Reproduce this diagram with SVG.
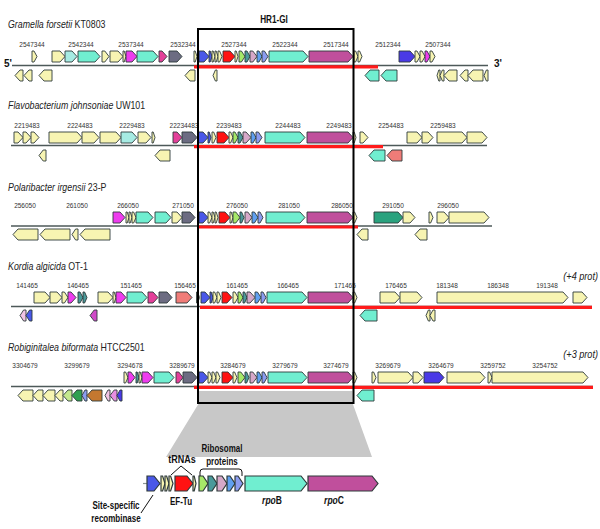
<svg xmlns="http://www.w3.org/2000/svg" width="600" height="529" viewBox="0 0 600 529">
<style>
.g path{stroke:#2e3a3a;stroke-width:0.9;stroke-linejoin:miter}
.lg2 path{stroke:#2e3a3a;stroke-width:1.2}
.y{fill:#f7f4b2}.aq{fill:#70eed0}.lc{fill:#a6ebe3}.mg{fill:#c04f9c}.mb{fill:#ee3cee}.hp{fill:#e4409a}.sl{fill:#6c6c82}.bl{fill:#4a58e8}.pb{fill:#4a3ae6}.rd{fill:#ff1212}.gr{fill:#a6e868}.tl{fill:#4a9a9a}.pk{fill:#d6a8c8}.lb{fill:#60a0f0}.pw{fill:#8c9cf0}.sa{fill:#f07c78}.dg{fill:#2aa27e}.br{fill:#c47830}.lgr{fill:#c4e88e}.gn{fill:#30a050}.lp{fill:#f2c4e4}.or{fill:#d04ac8}.pi{fill:#e88ee0}
.bb{stroke:#4d5959;stroke-width:1.5}
.red{stroke:#ff1a1a;stroke-width:3.2}
.num{font-family:"Liberation Sans",Arial,sans-serif;font-size:6.5px;fill:#333;text-anchor:middle}
.ttl{font-family:"Liberation Sans",Arial,sans-serif;font-size:10.5px;fill:#222}
.lbl{font-family:"Liberation Sans",Arial,sans-serif;font-size:10px;font-weight:bold;fill:#111;text-anchor:middle}
.end{font-family:"Liberation Sans",Arial,sans-serif;font-size:10px;font-weight:bold;fill:#111}
</style>

<polygon id="zoom-shade" points="199,391 352.5,391 352.5,403 372,457 166,457 199,403" fill="#c8c8c8"/>

<g id="backbones">
<line class="bb" x1="12" y1="65.5" x2="488" y2="65.5"/>
<line class="red" x1="194" y1="66.8" x2="378" y2="66.8"/>
<line class="bb" x1="11" y1="145.5" x2="487" y2="145.5"/>
<line class="red" x1="194" y1="146.6" x2="383" y2="146.6"/>
<line class="bb" x1="11" y1="226" x2="492" y2="226"/>
<line class="red" x1="199" y1="227" x2="358" y2="227"/>
<line class="bb" x1="11" y1="306.5" x2="592" y2="306.5"/>
<line class="red" x1="200" y1="307.3" x2="592" y2="307.3"/>
<line class="bb" x1="11" y1="386.5" x2="593" y2="386.5"/>
<line class="red" x1="194" y1="387.3" x2="593" y2="387.3"/>
</g>

<text class="end" x="4" y="67">5'</text>
<text class="end" x="494" y="67">3'</text>

<g id="row-gramella" transform="translate(0,51)">
<g class="g">
<path class="y" d="M32 0h2l3 5.5-3 5.5h-2z"/>
<path class="y" d="M52 0h8l5 5.5-5 5.5h-8z"/>
<path class="lc" d="M65 0h7l5 5.5-5 5.5h-7z"/>
<path class="aq" d="M78 0h17l5 5.5-5 5.5h-17z"/>
<path class="y" d="M102 0h2.8l4.2 5.5-4.2 5.5h-2.8z"/>
<path class="y" d="M110 0h8l5 5.5-5 5.5h-8z"/>
<path class="y" d="M123 0h1.2l1.8 5.5-1.8 5.5h-1.2z"/>
<path class="mb" d="M126 0h6l5 5.5-5 5.5h-6z"/>
<path class="aq" d="M137 0h16l5 5.5-5 5.5h-16z"/>
<path class="hp" d="M159 0h3l5 5.5-5 5.5h-3z"/>
<path class="sl" d="M169 0h8l5 5.5-5 5.5h-8z"/>
<path class="y" d="M194 0h1.2l1.8 5.5-1.8 5.5h-1.2z"/>
<path class="bl" d="M199 0h5l5 5.5-5 5.5h-5z"/>
<path class="bl" d="M209 0h1.2l1.8 5.5-1.8 5.5h-1.2z"/>
<path class="y" d="M212 0h1.2l1.8 5.5-1.8 5.5h-1.2z"/>
<path class="y" d="M215 0h1.2l1.8 5.5-1.8 5.5h-1.2z"/>
<path class="y" d="M218 0h1.6l2.4 5.5-2.4 5.5h-1.6z"/>
<path class="rd" d="M223 0h7l5 5.5-5 5.5h-7z"/>
<path class="y" d="M235 0h1.2l1.8 5.5-1.8 5.5h-1.2z"/>
<path class="gr" d="M239 0h2.4l3.6 5.5-3.6 5.5h-2.4z"/>
<path class="tl" d="M245 0h2l3 5.5-3 5.5h-2z"/>
<path class="pk" d="M250 0h2.8l4.2 5.5-4.2 5.5h-2.8z"/>
<path class="lb" d="M257 0h2l3 5.5-3 5.5h-2z"/>
<path class="pw" d="M262 0h2.4l3.6 5.5-3.6 5.5h-2.4z"/>
<path class="aq" d="M269 0h34l5 5.5-5 5.5h-34z"/>
<path class="mg" d="M309 0h39l5 5.5-5 5.5h-39z"/>
<path class="y" d="M354 0h1.6l2.4 5.5-2.4 5.5h-1.6z"/>
<path class="y" d="M358 0h1.6l2.4 5.5-2.4 5.5h-1.6z"/>
<path class="pb" d="M399 0h11l5 5.5-5 5.5h-11z"/>
<path class="y" d="M415 0h2l3 5.5-3 5.5h-2z"/>
<path class="y" d="M420 0h2l3 5.5-3 5.5h-2z"/>
<path class="mb" d="M425 0h2l3 5.5-3 5.5h-2z"/>
<path class="y" d="M430 0h2l3 5.5-3 5.5h-2z"/>
<path class="y" d="M23 19h-3l-5 5.5 5 5.5h3z"/>
<path class="y" d="M32 19h-3l-5 5.5 5 5.5h3z"/>
<path class="y" d="M52 19h-8l-5 5.5 5 5.5h8z"/>
<path class="y" d="M195 19h-5l-5 5.5 5 5.5h5z"/>
<path class="y" d="M217 19h-1.6l-2.4 5.5 2.4 5.5h1.6z"/>
<path class="aq" d="M379 19h-9l-5 5.5 5 5.5h9z"/>
<path class="aq" d="M397 19h-11l-5 5.5 5 5.5h11z"/>
<path class="y" d="M440 19h-1.2l-1.8 5.5 1.8 5.5h1.2z"/>
<path class="y" d="M444 19h-1.6l-2.4 5.5 2.4 5.5h1.6z"/>
<path class="y" d="M457 19h-8l-5 5.5 5 5.5h8z"/>
<path class="y" d="M468 19h-3l-5 5.5 5 5.5h3z"/>
<path class="y" d="M483 19h-10l-5 5.5 5 5.5h10z"/>
<path class="y" d="M488 19h-1.6l-2.4 5.5 2.4 5.5h1.6z"/>
</g>
<text class="num" y="-4"><tspan x="32">2547344</tspan><tspan x="81">2542344</tspan><tspan x="131">2537344</tspan><tspan x="183">2532344</tspan><tspan x="234">2527344</tspan><tspan x="285">2522344</tspan><tspan x="336">2517344</tspan><tspan x="388">2512344</tspan><tspan x="438">2507344</tspan></text>
</g>
<text class="ttl" transform="translate(8,27.5) scale(0.84,1)"><tspan font-style="italic">Gramella forsetii</tspan> KT0803</text>

<g id="row-flavobacterium" transform="translate(0,132)">
<g class="g">
<path class="y" d="M14 0h4l5 5.5-5 5.5h-4z"/>
<path class="y" d="M23 0h3l5 5.5-5 5.5h-3z"/>
<path class="y" d="M31 0h3l5 5.5-5 5.5h-3z"/>
<path class="y" d="M49 0h28l5 5.5-5 5.5h-28z"/>
<path class="y" d="M82 0h12l5 5.5-5 5.5h-12z"/>
<path class="y" d="M100 0h16l5 5.5-5 5.5h-16z"/>
<path class="lc" d="M121 0h11l5 5.5-5 5.5h-11z"/>
<path class="y" d="M138 0h8l5 5.5-5 5.5h-8z"/>
<path class="y" d="M152 0h1.2l1.8 5.5-1.8 5.5h-1.2z"/>
<path class="hp" d="M173 0h4l5 5.5-5 5.5h-4z"/>
<path class="sl" d="M182 0h10l5 5.5-5 5.5h-10z"/>
<path class="bl" d="M198 0h5l5 5.5-5 5.5h-5z"/>
<path class="bl" d="M208 0h1.2l1.8 5.5-1.8 5.5h-1.2z"/>
<path class="y" d="M212 0h1.6l2.4 5.5-2.4 5.5h-1.6z"/>
<path class="rd" d="M217 0h7l5 5.5-5 5.5h-7z"/>
<path class="y" d="M229 0h1.6l2.4 5.5-2.4 5.5h-1.6z"/>
<path class="gr" d="M233 0h2l3 5.5-3 5.5h-2z"/>
<path class="tl" d="M238 0h2l3 5.5-3 5.5h-2z"/>
<path class="pk" d="M243 0h3l5 5.5-5 5.5h-3z"/>
<path class="lb" d="M251 0h2l3 5.5-3 5.5h-2z"/>
<path class="pw" d="M256 0h2.4l3.6 5.5-3.6 5.5h-2.4z"/>
<path class="aq" d="M265 0h35l5 5.5-5 5.5h-35z"/>
<path class="mg" d="M307 0h41l5 5.5-5 5.5h-41z"/>
<path class="y" d="M353 0h1.2l1.8 5.5-1.8 5.5h-1.2z"/>
<path class="y" d="M360 0h3l5 5.5-5 5.5h-3z"/>
<path class="y" d="M407 0h10l5 5.5-5 5.5h-10z"/>
<path class="y" d="M422 0h6l5 5.5-5 5.5h-6z"/>
<path class="y" d="M437 0h25l5 5.5-5 5.5h-25z"/>
<path class="y" d="M467 0h15l5 5.5-5 5.5h-15z"/>
<path class="y" d="M46 18h-2.8l-4.2 5.5 4.2 5.5h2.8z"/>
<path class="y" d="M170 18h-10l-5 5.5 5 5.5h10z"/>
<path class="aq" d="M385 18h-11l-5 5.5 5 5.5h11z"/>
<path class="sa" d="M402 18h-10l-5 5.5 5 5.5h10z"/>
</g>
<text class="num" y="-4"><tspan x="27">2219483</tspan><tspan x="80">2224483</tspan><tspan x="132">2229483</tspan><tspan x="184">22234483</tspan><tspan x="229">2239483</tspan><tspan x="288">2244483</tspan><tspan x="339">2249483</tspan><tspan x="391">2254483</tspan><tspan x="443">2259483</tspan></text>
</g>
<text class="ttl" transform="translate(8,109) scale(0.84,1)"><tspan font-style="italic">Flavobacterium johnsoniae</tspan> UW101</text>

<g id="row-polaribacter" transform="translate(0,212)">
<g class="g">
<path class="mb" d="M113 0h7l5 5.5-5 5.5h-7z"/>
<path class="y" d="M126 0h1.2l1.8 5.5-1.8 5.5h-1.2z"/>
<path class="y" d="M129 0h1.2l1.8 5.5-1.8 5.5h-1.2z"/>
<path class="y" d="M132 0h1.6l2.4 5.5-2.4 5.5h-1.6z"/>
<path class="aq" d="M136 0h12l5 5.5-5 5.5h-12z"/>
<path class="aq" d="M155 0h11l5 5.5-5 5.5h-11z"/>
<path class="y" d="M172 0h5l5 5.5-5 5.5h-5z"/>
<path class="sl" d="M182 0h8l5 5.5-5 5.5h-8z"/>
<path class="bl" d="M199 0h4l5 5.5-5 5.5h-4z"/>
<path class="y" d="M208 0h1.6l2.4 5.5-2.4 5.5h-1.6z"/>
<path class="y" d="M212 0h1.2l1.8 5.5-1.8 5.5h-1.2z"/>
<path class="y" d="M215 0h1.2l1.8 5.5-1.8 5.5h-1.2z"/>
<path class="rd" d="M219 0h6l5 5.5-5 5.5h-6z"/>
<path class="y" d="M230 0h1.2l1.8 5.5-1.8 5.5h-1.2z"/>
<path class="gr" d="M233 0h2.8l4.2 5.5-4.2 5.5h-2.8z"/>
<path class="tl" d="M240 0h1.6l2.4 5.5-2.4 5.5h-1.6z"/>
<path class="pk" d="M245 0h2.8l4.2 5.5-4.2 5.5h-2.8z"/>
<path class="lb" d="M252 0h2.4l3.6 5.5-3.6 5.5h-2.4z"/>
<path class="pw" d="M258 0h2l3 5.5-3 5.5h-2z"/>
<path class="aq" d="M266 0h34l5 5.5-5 5.5h-34z"/>
<path class="mg" d="M307 0h41l5 5.5-5 5.5h-41z"/>
<path class="y" d="M353 0h1.6l2.4 5.5-2.4 5.5h-1.6z"/>
<path class="dg" d="M374 0h24l5 5.5-5 5.5h-24z"/>
<path class="y" d="M403 0h7l5 5.5-5 5.5h-7z"/>
<path class="y" d="M429 0h1.6l2.4 5.5-2.4 5.5h-1.6z"/>
<path class="y" d="M437 0h7l5 5.5-5 5.5h-7z"/>
<path class="y" d="M449 0h35l5 5.5-5 5.5h-35z"/>
<path class="y" d="M38 17h-20l-5 5.5 5 5.5h20z"/>
<path class="y" d="M70 17h-25l-5 5.5 5 5.5h25z"/>
<path class="y" d="M78 17h-2.4l-3.6 5.5 3.6 5.5h2.4z"/>
<path class="y" d="M110 17h-25l-5 5.5 5 5.5h25z"/>
<path class="y" d="M368 17h-6l-5 5.5 5 5.5h6z"/>
<path class="y" d="M427 17h-7l-5 5.5 5 5.5h7z"/>
</g>
<text class="num" y="-4"><tspan x="25">256050</tspan><tspan x="77">261050</tspan><tspan x="128">266050</tspan><tspan x="183">271050</tspan><tspan x="237">276050</tspan><tspan x="289">281050</tspan><tspan x="342">286050</tspan><tspan x="393">291050</tspan><tspan x="448">296050</tspan></text>
</g>
<text class="ttl" transform="translate(8,190.5) scale(0.84,1)"><tspan font-style="italic">Polaribacter irgensii</tspan> 23-P</text>

<g id="row-kordia" transform="translate(0,292)">
<g class="g">
<path class="y" d="M34 0h11l5 5.5-5 5.5h-11z"/>
<path class="y" d="M50 0h7l5 5.5-5 5.5h-7z"/>
<path class="y" d="M62 0h2.4l3.6 5.5-3.6 5.5h-2.4z"/>
<path class="mb" d="M68 0h3l5 5.5-5 5.5h-3z"/>
<path class="tl" d="M78 0h2l3 5.5-3 5.5h-2z"/>
<path class="tl" d="M83 0h1.6l2.4 5.5-2.4 5.5h-1.6z"/>
<path class="y" d="M98 0h10l5 5.5-5 5.5h-10z"/>
<path class="y" d="M113 0h1.2l1.8 5.5-1.8 5.5h-1.2z"/>
<path class="mb" d="M116 0h5l5 5.5-5 5.5h-5z"/>
<path class="aq" d="M127 0h15l5 5.5-5 5.5h-15z"/>
<path class="hp" d="M148 0h5l5 5.5-5 5.5h-5z"/>
<path class="sl" d="M159 0h8l5 5.5-5 5.5h-8z"/>
<path class="sa" d="M176 0h11l5 5.5-5 5.5h-11z"/>
<path class="y" d="M196.5 0h1.2l1.8 5.5-1.8 5.5h-1.2z"/>
<path class="bl" d="M201 0h4l5 5.5-5 5.5h-4z"/>
<path class="bl" d="M210 0h1.2l1.8 5.5-1.8 5.5h-1.2z"/>
<path class="y" d="M213 0h1.6l2.4 5.5-2.4 5.5h-1.6z"/>
<path class="y" d="M217 0h1.6l2.4 5.5-2.4 5.5h-1.6z"/>
<path class="rd" d="M222 0h5l5 5.5-5 5.5h-5z"/>
<path class="y" d="M233 0h2l3 5.5-3 5.5h-2z"/>
<path class="gr" d="M238 0h2l3 5.5-3 5.5h-2z"/>
<path class="tl" d="M243 0h1.6l2.4 5.5-2.4 5.5h-1.6z"/>
<path class="pk" d="M247 0h3l5 5.5-5 5.5h-3z"/>
<path class="lb" d="M255 0h2.4l3.6 5.5-3.6 5.5h-2.4z"/>
<path class="pw" d="M261 0h2l3 5.5-3 5.5h-2z"/>
<path class="aq" d="M267 0h35l5 5.5-5 5.5h-35z"/>
<path class="mg" d="M308 0h40l5 5.5-5 5.5h-40z"/>
<path class="y" d="M353 0h1.6l2.4 5.5-2.4 5.5h-1.6z"/>
<path class="y" d="M380 0h15l5 5.5-5 5.5h-15z"/>
<path class="y" d="M400 0h17l5 5.5-5 5.5h-17z"/>
<path class="y" d="M437 0h126l5 5.5-5 5.5h-126z"/>
<path class="y" d="M573 0h9l5 5.5-5 5.5h-9z"/>
<path class="lp" d="M26 18h-2.4l-3.6 5.5 3.6 5.5h2.4z"/>
<path class="bl" d="M32 18h-2.4l-3.6 5.5 3.6 5.5h2.4z"/>
<path class="or" d="M97 18h-2.8l-4.2 5.5 4.2 5.5h2.8z"/>
<path class="aq" d="M377 18h-12l-5 5.5 5 5.5h12z"/>
<path class="y" d="M430 18h-1.6l-2.4 5.5 2.4 5.5h1.6z"/>
<path class="y" d="M435 18h-2l-3 5.5 3 5.5h2z"/>
</g>
<text class="num" y="-4"><tspan x="27">141465</tspan><tspan x="78">146465</tspan><tspan x="131">151465</tspan><tspan x="185">156465</tspan><tspan x="237">161465</tspan><tspan x="288">166465</tspan><tspan x="345">171465</tspan><tspan x="396">176465</tspan><tspan x="447">181348</tspan><tspan x="498">186348</tspan><tspan x="547">191348</tspan></text>
</g>
<text class="ttl" transform="translate(8,269.5) scale(0.84,1)"><tspan font-style="italic">Kordia algicida</tspan> OT-1</text>
<text class="ttl" font-style="italic" font-size="9" text-anchor="end" transform="translate(598,280) scale(0.87,1)">(+4 prot)</text>

<g id="row-robiginitalea" transform="translate(0,372)">
<g class="g">
<path class="y" d="M124 0h1.6l2.4 5.5-2.4 5.5h-1.6z"/>
<path class="mb" d="M128 0h2.8l4.2 5.5-4.2 5.5h-2.8z"/>
<path class="tl" d="M136 0h1.2l1.8 5.5-1.8 5.5h-1.2z"/>
<path class="y" d="M139 0h1.2l1.8 5.5-1.8 5.5h-1.2z"/>
<path class="mb" d="M142 0h6l5 5.5-5 5.5h-6z"/>
<path class="aq" d="M154 0h15l5 5.5-5 5.5h-15z"/>
<path class="hp" d="M176 0h2.8l4.2 5.5-4.2 5.5h-2.8z"/>
<path class="sl" d="M183 0h9l5 5.5-5 5.5h-9z"/>
<path class="bl" d="M199 0h4l5 5.5-5 5.5h-4z"/>
<path class="y" d="M208 0h1.6l2.4 5.5-2.4 5.5h-1.6z"/>
<path class="y" d="M212 0h1.6l2.4 5.5-2.4 5.5h-1.6z"/>
<path class="y" d="M216 0h1.6l2.4 5.5-2.4 5.5h-1.6z"/>
<path class="rd" d="M222 0h6l5 5.5-5 5.5h-6z"/>
<path class="y" d="M233 0h1.6l2.4 5.5-2.4 5.5h-1.6z"/>
<path class="gr" d="M238 0h2.8l4.2 5.5-4.2 5.5h-2.8z"/>
<path class="tl" d="M245 0h1.6l2.4 5.5-2.4 5.5h-1.6z"/>
<path class="pk" d="M250 0h2.8l4.2 5.5-4.2 5.5h-2.8z"/>
<path class="lb" d="M257 0h2l3 5.5-3 5.5h-2z"/>
<path class="pw" d="M262 0h2l3 5.5-3 5.5h-2z"/>
<path class="aq" d="M268 0h34l5 5.5-5 5.5h-34z"/>
<path class="mg" d="M308 0h40l5 5.5-5 5.5h-40z"/>
<path class="y" d="M353 0h1.6l2.4 5.5-2.4 5.5h-1.6z"/>
<path class="y" d="M372 0h1.6l2.4 5.5-2.4 5.5h-1.6z"/>
<path class="y" d="M378 0h30l5 5.5-5 5.5h-30z"/>
<path class="y" d="M413 0h5l5 5.5-5 5.5h-5z"/>
<path class="pb" d="M424 0h15l5 5.5-5 5.5h-15z"/>
<path class="y" d="M447 0h33l5 5.5-5 5.5h-33z"/>
<path class="y" d="M488 0h1.6l2.4 5.5-2.4 5.5h-1.6z"/>
<path class="y" d="M492 0h91l5 5.5-5 5.5h-91z"/>
<path class="y" d="M33 18h-10l-5 5.5 5 5.5h10z"/>
<path class="y" d="M43 18h-5l-5 5.5 5 5.5h5z"/>
<path class="y" d="M55 18h-7l-5 5.5 5 5.5h7z"/>
<path class="y" d="M63 18h-3l-5 5.5 5 5.5h3z"/>
<path class="lgr" d="M72 18h-4l-5 5.5 5 5.5h4z"/>
<path class="gn" d="M82 18h-5l-5 5.5 5 5.5h5z"/>
<path class="pw" d="M87 18h-2l-3 5.5 3 5.5h2z"/>
<path class="br" d="M102 18h-10l-5 5.5 5 5.5h10z"/>
<path class="lp" d="M110 18h-2l-3 5.5 3 5.5h2z"/>
<path class="pi" d="M117 18h-2.8l-4.2 5.5 4.2 5.5h2.8z"/>
<path class="pb" d="M122 18h-2l-3 5.5 3 5.5h2z"/>
<path class="aq" d="M374 18h-12l-5 5.5 5 5.5h12z"/>
</g>
<text class="num" y="-4"><tspan x="25">3304679</tspan><tspan x="77">3299679</tspan><tspan x="130">3294678</tspan><tspan x="182">3289679</tspan><tspan x="233">3284679</tspan><tspan x="285">3279679</tspan><tspan x="336">3274679</tspan><tspan x="388">3269679</tspan><tspan x="441">3264679</tspan><tspan x="493">3259752</tspan><tspan x="545">3254752</tspan></text>
</g>
<text class="ttl" transform="translate(8,351) scale(0.84,1)"><tspan font-style="italic">Robiginitalea biformata</tspan> HTCC2501</text>
<text class="ttl" font-style="italic" font-size="9" text-anchor="end" transform="translate(598,358) scale(0.87,1)">(+3 prot)</text>

<g id="hr1-gi-box">
<rect x="198" y="29" width="155.5" height="374" fill="none" stroke="#000" stroke-width="2"/>
<text class="lbl" font-size="11" transform="translate(274,22.5) scale(0.82,1)">HR1-GI</text>
</g>

<g id="legend">
<line x1="143" y1="483.5" x2="147" y2="483.5" stroke="#8a9494" stroke-width="1.2"/>
<g class="lg2" transform="translate(0,476)">
<path class="bl" d="M147 0h7l6 7.5-6 7.5h-7z"/>
<path class="y" d="M161 0h1.6l2.4 7.5-2.4 7.5h-1.6z"/>
<path class="y" d="M165 0h1.6l2.4 7.5-2.4 7.5h-1.6z"/>
<path class="y" d="M169 0h1.6l2.4 7.5-2.4 7.5h-1.6z"/>
<path class="rd" d="M175 0h12l6 7.5-6 7.5h-12z"/>
<path class="y" d="M193 0h1.2l1.8 7.5-1.8 7.5h-1.2z"/>
<path class="gr" d="M199 0h4l5 7.5-5 7.5h-4z"/>
<path class="tl" d="M208 0h4l5 7.5-5 7.5h-4z"/>
<path class="pk" d="M217 0h5l5 7.5-5 7.5h-5z"/>
<path class="lb" d="M227 0h3l5 7.5-5 7.5h-3z"/>
<path class="pw" d="M235 0h3l5 7.5-5 7.5h-3z"/>
<path class="aq" d="M245 0h56l6 7.5-6 7.5h-56z"/>
<path class="mg" d="M308 0h64l6 7.5-6 7.5h-64z"/>
</g>
<polyline points="171,475 181,466 192,475" fill="none" stroke="#111" stroke-width="1"/>
<path d="M200,476 V472 Q200,469 203,469 H239 Q242,469 242,472 V476" fill="none" stroke="#111" stroke-width="1"/>
<line x1="153" y1="495" x2="141" y2="513" stroke="#111" stroke-width="1"/>
<text class="lbl" transform="translate(182,463) scale(0.9,1)">tRNAs</text>
<text class="lbl" transform="translate(222,452) scale(0.8,1)">Ribosomal</text>
<text class="lbl" transform="translate(222,465) scale(0.8,1)">proteins</text>
<text class="lbl" transform="translate(181,505) scale(0.8,1)">EF-Tu</text>
<text class="lbl" font-style="italic" transform="translate(272,504) scale(0.85,1)">rpo<tspan font-style="normal">B</tspan></text>
<text class="lbl" font-style="italic" transform="translate(334,504) scale(0.85,1)">rpo<tspan font-style="normal">C</tspan></text>
<text class="lbl" transform="translate(116,509) scale(0.8,1)">Site-specific</text>
<text class="lbl" transform="translate(116,522) scale(0.8,1)">recombinase</text>
</g>
</svg>
